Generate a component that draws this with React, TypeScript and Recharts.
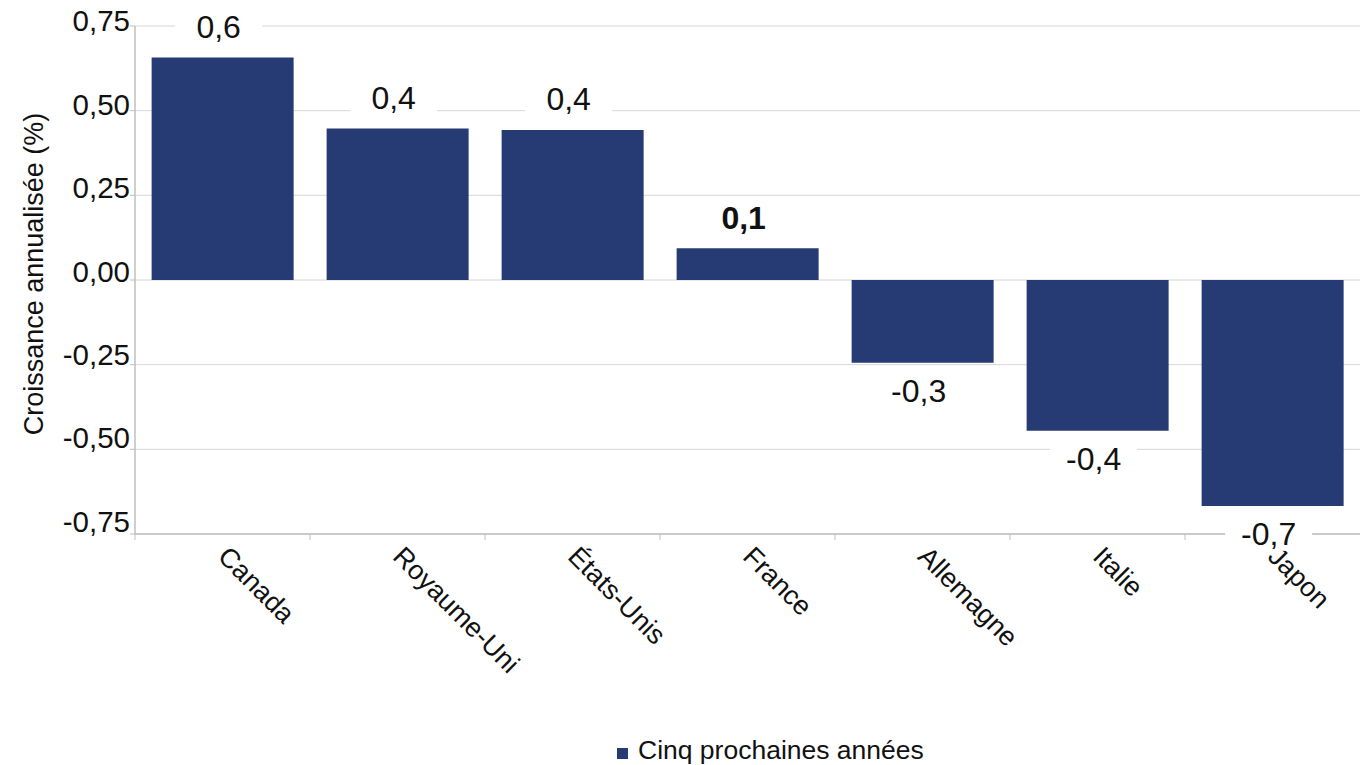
import React from 'react';
import { BarChart, Bar, XAxis, YAxis, CartesianGrid, Legend, LabelList } from 'recharts';

const categories = ['Canada', 'Royaume-Uni', 'États-Unis', 'France', 'Allemagne', 'Italie', 'Japon'];
const values = [0.657, 0.447, 0.443, 0.094, -0.244, -0.445, -0.667];
const labels = ['0,6', '0,4', '0,4', '0,1', '-0,3', '-0,4', '-0,7'];
const labelBold = [false, false, false, true, false, false, false];
const yTicks = [-0.75, -0.5, -0.25, 0, 0.25, 0.5, 0.75];
const seriesName = 'Cinq prochaines années';
const yTitle = 'Croissance annualisée (%)';

const data = categories.map((c, i) => ({ name: c, value: values[i], label: labels[i] }));

const FONT = '"Liberation Sans", Arial, sans-serif';
const BAR = '#263b73';
const AXIS = '#bfbfbf';
const GRID = '#d6d6d6';
const TEXT = '#111111';

const fmt = (v: number) => v.toFixed(2).replace('.', ',');

const YTick = (props: any) => {
  const { x, y, payload } = props;
  const v = payload.value as number;
  return (
    <text x={x} y={y} dy={1.5 + 5.2 * v} textAnchor="end" fontFamily={FONT} fontSize={29.5} fill={TEXT}>
      {fmt(v)}
    </text>
  );
};

const XTick = (props: any) => {
  const { x, y, payload } = props;
  const half = payload && typeof payload.offset === 'number' && payload.offset > 0 ? payload.offset : 87.5;
  const tx = x - 6;
  const ty = y + 24;
  return (
    <g>
      <line x1={x - half} x2={x - half} y1={y} y2={y + 6} stroke={AXIS} strokeWidth={1} />
      <text x={tx} y={ty} transform={`rotate(45, ${tx}, ${ty})`} textAnchor="start" fontFamily={FONT} fontSize={27} fill={TEXT}>
        {payload.value}
      </text>
    </g>
  );
};

const BarLabel = (props: any) => {
  const vb = props.viewBox && typeof props.viewBox.x === 'number' ? props.viewBox : props;
  const { x, y, width, height } = vb;
  const text = props.value as string;
  const idx = typeof props.index === 'number' ? props.index : labels.indexOf(text);
  const neg = values[idx] < 0;
  const end = neg ? Math.max(y, y + height) : Math.min(y, y + height);
  const cy = neg ? end + 28 : end - 31;
  const cx = x + width / 2 - 4;
  return (
    <g>
      <rect x={cx - 43.5} y={cy - 17} width={87} height={34} fill="#ffffff" />
      <text x={cx} y={cy} dy="0.36em" textAnchor="middle" fontFamily={FONT} fontSize={32} fontWeight={labelBold[idx] ? 700 : 400} fill={TEXT}>
        {text}
      </text>
    </g>
  );
};

const YTitle = (props: any) => {
  const vb = props.viewBox || { x: 0, y: 26, width: 135, height: 508 };
  const tx = vb.x + 43;
  const ty = vb.y + vb.height / 2 - 6;
  return (
    <text x={tx} y={ty} transform={`rotate(-90, ${tx}, ${ty})`} textAnchor="middle" fontFamily={FONT} fontSize={27} fill={TEXT}>
      {yTitle}
    </text>
  );
};

const LegendContent = () => (
  <div style={{ position: 'relative', height: 40, width: 1366 }}>
    <div style={{ position: 'absolute', left: 617, top: 23, width: 11, height: 11, background: BAR }} />
    <span style={{ position: 'absolute', left: 638, top: 12, fontFamily: FONT, fontSize: 26.5, lineHeight: '26px', color: TEXT, whiteSpace: 'nowrap' }}>
      {seriesName}
    </span>
  </div>
);

export default function App() {
  return (
    <div style={{ position: 'absolute', left: 0, top: 0, width: 1366, height: 765, background: '#fff' }}>
      <BarChart width={1366} height={765} data={data} margin={{ top: 26, right: 6, bottom: 0, left: 0 }} barCategoryGap="9.5%">
        <CartesianGrid vertical={false} stroke={GRID} strokeWidth={1} />
        <XAxis
          dataKey="name"
          height={191}
          interval={0}
          tickLine={false}
          tickSize={0}
          tickMargin={0}
          axisLine={{ stroke: AXIS, strokeWidth: 1.5 }}
          tick={<XTick />}
        />
        <YAxis
          width={135}
          domain={[-0.75, 0.75]}
          ticks={yTicks}
          interval={0}
          allowDataOverflow
          tickSize={5}
          tickMargin={0}
          tickLine={{ stroke: AXIS }}
          axisLine={{ stroke: AXIS, strokeWidth: 1.5 }}
          tick={<YTick />}
          label={<YTitle />}
        />
        <Legend verticalAlign="bottom" wrapperStyle={{ left: 0, width: 1366, bottom: 0 }} content={<LegendContent />} />
        <Bar dataKey="value" name={seriesName} fill={BAR} isAnimationActive={false}>
          <LabelList dataKey="label" content={<BarLabel />} />
        </Bar>
      </BarChart>
    </div>
  );
}
